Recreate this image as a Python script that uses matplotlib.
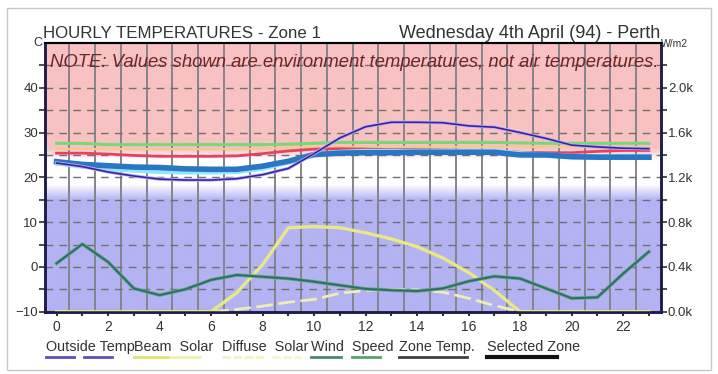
import numpy as np
import matplotlib.pyplot as plt
from matplotlib.lines import Line2D
from matplotlib.patches import Rectangle
from matplotlib.colors import to_rgb

plt.rcParams['font.family'] = ['Liberation Sans', 'DejaVu Sans']

# data (hour of day)
hours = np.arange(24)
outside_temp = [23.2, 22.4, 21.2, 20.3, 19.6, 19.4, 19.4, 19.7, 20.6, 22.0, 25.3, 28.8,
                31.3, 32.3, 32.3, 32.2, 31.5, 31.2, 30.0, 28.7, 27.2, 26.8, 26.5, 26.4]
zone_green = [27.6, 27.6, 27.3, 27.3, 27.3, 27.3, 27.3, 27.3, 27.3, 27.4, 27.6, 27.8,
              27.8, 27.8, 27.8, 27.8, 27.8, 27.8, 27.7, 27.6, 27.6, 27.6, 27.6, 27.6]
zone_orange = [26.3, 26.3, 26.3, 26.3, 26.3, 26.3, 26.3, 26.3, 26.4, 26.6, 26.8, 26.8,
               26.8, 26.8, 26.8, 26.8, 26.8, 26.8, 26.8, 26.8, 26.8, 26.8, 26.8, 26.8]
zone_red = [25.4, 25.4, 25.2, 24.9, 24.7, 24.7, 24.7, 24.8, 25.3, 25.9, 26.3, 26.4,
            26.3, 26.2, 26.2, 26.1, 26.0, 25.9, 25.6, 25.5, 25.5, 25.8, 26.0, 26.0]
zone_cyan = [23.1, 22.4, 21.9, 21.5, 21.2, 21.1, 21.1, 21.2, 21.9, 23.3, 24.9, 25.7,
             25.9, 25.9, 25.9, 25.9, 25.9, 25.9, 25.4, 25.1, 24.8, 24.7, 24.7, 24.7]
selected_zone = [23.5, 22.9, 22.6, 22.3, 22.2, 21.9, 21.8, 21.8, 22.5, 23.6, 25.1, 25.4,
                 25.5, 25.5, 25.6, 25.6, 25.6, 25.6, 25.0, 25.0, 24.6, 24.5, 24.5, 24.5]
wind_speed = [0.8, 5.1, 1.1, -4.8, -6.3, -5.0, -2.9, -1.8, -2.2, -2.6, -3.3, -4.1,
              -4.9, -5.2, -5.4, -4.8, -3.2, -2.1, -2.6, -4.8, -7.0, -6.8, -1.5, 3.4]
beam_solar = [0, 0, 0, 0, 0, 0, 0, 170, 420, 750, 760, 750,
              705, 650, 580, 480, 350, 190, 0, 0, 0, 0, 0, 0]
diffuse_solar = [0, 0, 0, 0, 0, 0, 0, 20, 50, 85, 110, 165,
                 190, 200, 195, 175, 120, 55, 0, 0, 0, 0, 0, 0]

legend_labels = ["Outside Temp", "Beam  Solar", "Diffuse  Solar", "Wind  Speed",
                 "Zone Temp.", "Selected Zone"]

W, H = 718, 374
fig = plt.figure(figsize=(W / 100, H / 100), dpi=100)
fig.patch.set_facecolor('white')


def fx(px):
    return px / W


def fy(py):
    return 1 - py / H


# outer frame
fig.patches.append(Rectangle((fx(7), fy(370)), fx(704), 362 / H, transform=fig.transFigure,
                             fill=False, edgecolor='#c8c8c8', lw=1))

XMIN, XMAX = -0.45, 23.47
ax = fig.add_axes([fx(45), fy(311.7), fx(616), (311.7 - 43) / H])
ax.set_xlim(XMIN, XMAX)
ax.set_ylim(-10, 50)

# right axis (W/m2) sits underneath and carries the background
ax2 = ax.twinx()
ax2.set_ylim(0, 2400)
ax.set_zorder(ax2.get_zorder() + 1)
ax.patch.set_visible(False)

# background: pink (hot) -> white -> lavender (cold), in W/m2 units of ax2
pink = np.array(to_rgb('#f9c2c2'))
white = np.array([1.0, 1.0, 1.0])
blue = np.array(to_rgb('#b3b3f3'))
yy = np.linspace(-10, 50, 600)
stops_y = [-10, 15, 18.5, 24, 26.5, 50]
stops_c = [blue, blue, white, white, pink, pink]
grad = np.zeros((len(yy), 1, 3))
for k in range(3):
    grad[:, 0, k] = np.interp(yy, stops_y, [c[k] for c in stops_c])
ax2.imshow(grad, extent=[XMIN, XMAX, 0, 2400], origin='lower', aspect='auto', zorder=0)
ax2.set_xlim(XMIN, XMAX)
ax2.set_ylim(0, 2400)

# grid
for xv in np.arange(0.5, 23, 1.0):
    ax2.axvline(xv, color='#84848c', lw=1.4, zorder=1)
for yv in range(200, 2400, 200):
    ax2.axhline(yv, color='#707070', lw=1, dashes=(5.5, 4.5), zorder=1)

# solar on the right axis
ax2.plot(hours, diffuse_solar, color='#eeeeb4', lw=2.0, dashes=(6, 2), zorder=3)
ax2.plot(hours, beam_solar, color='#e8e884', lw=2.4, zorder=3)

# temperatures on the left axis
ax.plot(hours, zone_green, color='#78d878', lw=2.2, zorder=4)
ax.plot(hours, zone_orange, color='#f4c890', lw=1.6, zorder=4)
ax.plot(hours, zone_red, color='#e84060', lw=2, zorder=4)
ax.plot(hours, zone_cyan, color='#8ee6ff', lw=3, zorder=4)
ax.plot(hours, selected_zone, color='#2876c4', lw=4, zorder=5)
ax.plot(hours, outside_temp, color='#c0b0f0', lw=2.4, zorder=5)
ax.plot(hours, outside_temp, color='#3424a4', lw=1.2, zorder=6)
ax.plot(hours, wind_speed, color='#6aa880', lw=2.6, zorder=5)
ax.plot(hours, wind_speed, color='#2a6e70', lw=1.4, zorder=6)

# axes styling
for a in (ax, ax2):
    for s in ('left', 'right', 'bottom'):
        a.spines[s].set_color('#1c1c48')
        a.spines[s].set_linewidth(1.8)
    a.spines['top'].set_color('black')
    a.spines['top'].set_linewidth(1.5)

ax.set_yticks(range(-10, 41, 10))
ax.set_yticks(range(-5, 50, 10), minor=True)
ax.set_xticks(range(0, 24, 2))
ax.set_xticks(range(1, 24, 2), minor=True)
ax.tick_params(axis='y', which='both', direction='out', length=4, width=1.2,
               color='#303030', labelsize=9.5, labelcolor='#333333', pad=1)
ax.tick_params(axis='x', which='both', direction='out', length=3, width=1.5,
               color='#303030', labelsize=10, labelcolor='#333333', pad=3)
ax2.tick_params(axis='x', which='both', bottom=False, labelbottom=False)

ax2.set_yticks(range(0, 2001, 400))
ax2.set_yticklabels(['%.1fk' % (v / 1000) for v in range(0, 2001, 400)])
ax2.set_yticks(range(200, 2400, 400), minor=True)
ax2.tick_params(axis='y', which='both', direction='out', length=4, width=1.2,
                color='#303030', labelsize=9.5, labelcolor='#333333', pad=1)

# titles and notes
fig.text(fx(43), fy(38), "HOURLY TEMPERATURES - Zone 1", fontsize=12.2, color='#333333',
         ha='left', va='baseline')
fig.text(fx(660), fy(38), "Wednesday 4th April (94) - Perth", fontsize=13, color='#333333',
         ha='right', va='baseline')
fig.text(fx(38), fy(46), "C", fontsize=9, color='#333333', ha='center', va='baseline')
fig.text(fx(661), fy(47), "W/m2", fontsize=7.5, color='#333333', ha='left', va='baseline')
fig.text(fx(50), fy(67), "NOTE: Values shown are environment temperatures, not air temperatures.",
         fontsize=13.3, style='italic', color='#6e2626', ha='left', va='baseline')

# legend row
legend_styles = [
    [('#5a50b8', 0, 28, {}), ('#5a50b8', 38, 66, {})],
    [('#e0e070', 0, 34, {}), ('#f0f0a8', 36, 66, {})],
    [('#f2f2c4', 0, 43, {'dashes': (3, 1)}), ('#f4f4d0', 50, 79, {'dashes': (3, 1)})],
    [('#4e8a68', 0, 30, {}), ('#5aa070', 41, 69, {})],
    [('#404040', 0, 68, {})],
    [('#101010', 0, 70, {'lw': 3})],
]
for i, (label, segs) in enumerate(zip(legend_labels, legend_styles)):
    x0 = 46 + 88.2 * i
    fig.text(fx(x0), fy(351), label, fontsize=10.4, color='#333333', ha='left', va='baseline')
    for col, a, b, kw in segs:
        lw = kw.pop('lw', 2)
        fig.lines.append(Line2D([fx(x0 + a), fx(x0 + b)], [fy(357), fy(357)],
                                transform=fig.transFigure, color=col, lw=lw, **kw))

fig.savefig("out.png", dpi=100)
